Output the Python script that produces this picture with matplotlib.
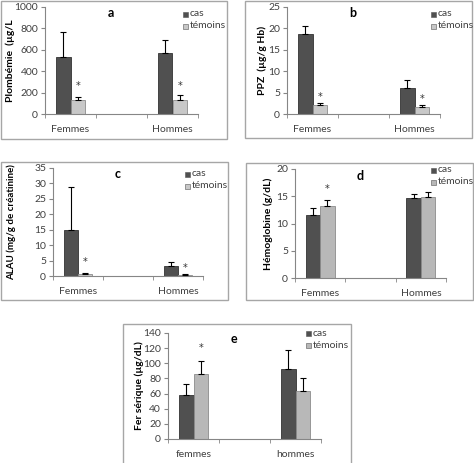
import matplotlib
matplotlib.use("Agg")
import matplotlib.pyplot as plt
from matplotlib.patches import Rectangle
import numpy as np

plt.rcParams['font.family'] = ['Lato', 'DejaVu Sans']

W, H = 474, 463

# ---- data ----
cats_upper = ["Femmes", "", "Hommes"]
cats_lower = ["femmes", "", "hommes"]
series = ["cas", "témoins"]

a_cas = [530, 570]; a_cas_err = [235, 120]
a_tem = [130, 130]; a_tem_err = [25, 50]
a_star = [260, 260]

b_cas = [18.7, 6.0]; b_cas_err = [1.8, 1.9]
b_tem = [2.2, 1.7]; b_tem_err = [0.4, 0.4]
b_star = [4.0, 3.5]

c_cas = [15.0, 3.2]; c_cas_err = [13.7, 1.2]
c_tem = [0.8, 0.4]; c_tem_err = [0.2, 0.1]
c_star = [4.5, 2.5]

d_cas = [11.5, 14.7]; d_cas_err = [1.3, 0.7]
d_tem = [13.3, 14.8]; d_tem_err = [1.0, 1.0]
d_star = [16.3, None]

e_cas = [58, 93]; e_cas_err = [15, 25]
e_tem = [86, 64]; e_tem_err = [17, 16]
e_star = [120, None]

fig = plt.figure(figsize=(W / 100, H / 100), dpi=100)

def px_rect(x0, y0, x1, y1):
    return [x0 / W, 1 - y1 / H, (x1 - x0) / W, (y1 - y0) / H]

# panel borders
for (x0, y0, x1, y1) in [(1, 1, 227, 139), (245, 1, 472, 138), (1, 162, 228, 300),
                         (246, 163, 473, 300), (123, 324, 351, 470)]:
    fig.patches.append(Rectangle((x0 / W, 1 - y1 / H), (x1 - x0) / W, (y1 - y0) / H,
                                 transform=fig.transFigure, fill=False,
                                 edgecolor='#a6a6a6', linewidth=1.0))

CAS_COL = '#505050'
CAS_EDGE = '#333333'

def panel(rect, cas, cas_err, tem, tem_err, stars, ymax, ystep, ylabel, title,
          cats, tem_col, leg_pos, ylabel_x, ylabel_fs=7.5):
    ax = fig.add_axes(px_rect(*rect))
    x = np.array([0, 2])
    w = 0.285
    ax.bar(x - w / 2, cas, w, color=CAS_COL, edgecolor=CAS_EDGE, linewidth=0.6, label=series[0], zorder=2)
    ax.bar(x + w / 2, tem, w, color=tem_col, edgecolor='#8c8c8c', linewidth=0.6, label=series[1], zorder=2)
    ax.errorbar(x - w / 2, cas, yerr=[np.zeros(2), cas_err], fmt='none', ecolor='black',
                elinewidth=0.8, capsize=2.5, capthick=0.8, zorder=3)
    ax.errorbar(x + w / 2, tem, yerr=[np.zeros(2), tem_err], fmt='none', ecolor='black',
                elinewidth=0.8, capsize=2.5, capthick=0.8, zorder=3)
    for xi, s in zip(x, stars):
        if s is not None:
            ax.text(xi + w / 2, s, '*', ha='center', va='center', fontsize=7,
                    color='#333333', family='DejaVu Sans')
    ax.set_xlim(-0.5, 2.5)
    ax.set_ylim(0, ymax)
    ax.set_yticks(np.arange(0, ymax + ystep / 2, ystep))
    ax.set_xticks([0, 2])
    ax.set_xticklabels([cats[0], cats[2]])
    ax.set_xticks([-0.5, 0.5, 1.5, 2.5], minor=True)
    ax.tick_params(axis='x', which='major', length=0, pad=8, labelsize=7.5, labelcolor='#404040')
    ax.tick_params(axis='x', which='minor', length=3, color='#868686', direction='out')
    ax.tick_params(axis='y', length=3, color='#868686', labelsize=7.5, labelcolor='#404040', pad=2)
    for s in ['top', 'right']:
        ax.spines[s].set_visible(False)
    for s in ['left', 'bottom']:
        ax.spines[s].set_color('#868686')
        ax.spines[s].set_linewidth(0.8)
    ax.set_facecolor('none')
    # ylabel
    cy = (rect[1] + rect[3]) / 2
    fig.text(ylabel_x / W, 1 - cy / H, ylabel, rotation=90, ha='center', va='center',
             fontsize=ylabel_fs, fontweight='bold', color='black')
    # title
    ax.text(0.43, 0.94, title, transform=ax.transAxes, ha='center', va='center',
            fontsize=9, fontweight='bold')
    # legend
    lx, ly = leg_pos
    for i, (lab, col) in enumerate([(series[0], CAS_COL), (series[1], tem_col)]):
        yy = ly + i * 12
        fig.patches.append(Rectangle(((lx) / W, 1 - (yy + 3) / H), 5 / W, 5 / H,
                                     transform=fig.transFigure, facecolor=col,
                                     edgecolor='#555555', linewidth=0.4))
        fig.text((lx + 7) / W, 1 - yy / H, lab, ha='left', va='center', fontsize=7.5,
                 color='#404040')
    return ax

panel((45, 7, 198, 114), a_cas, a_cas_err, a_tem, a_tem_err, a_star, 1000, 200,
      "Plombémie  (µg/L", "a", cats_upper, '#c8c8c8', (183, 14), 10)
panel((287, 7, 440, 114), b_cas, b_cas_err, b_tem, b_tem_err, b_star, 25, 5,
      "PPZ  (µg/g Hb)", "b", cats_upper, '#c8c8c8', (431, 14), 262)
panel((53, 168, 203, 276), c_cas, c_cas_err, c_tem, c_tem_err, c_star, 35, 5,
      "ALAU (mg/g de créatinine)", "c", cats_upper, '#c8c8c8', (185, 174), 11, 7)
panel((295, 169, 446, 278), d_cas, d_cas_err, d_tem, d_tem_err, d_star, 20, 5,
      "Hémoglobine (g/dL)", "d", cats_upper, '#b8b8b8', (431, 170), 268)
panel((168, 333, 321, 439), e_cas, e_cas_err, e_tem, e_tem_err, e_star, 140, 20,
      "Fer sérique (µg/dL)", "e", cats_lower, '#b8b8b8', (306, 333), 139)

fig.savefig("out.png", dpi=100)
